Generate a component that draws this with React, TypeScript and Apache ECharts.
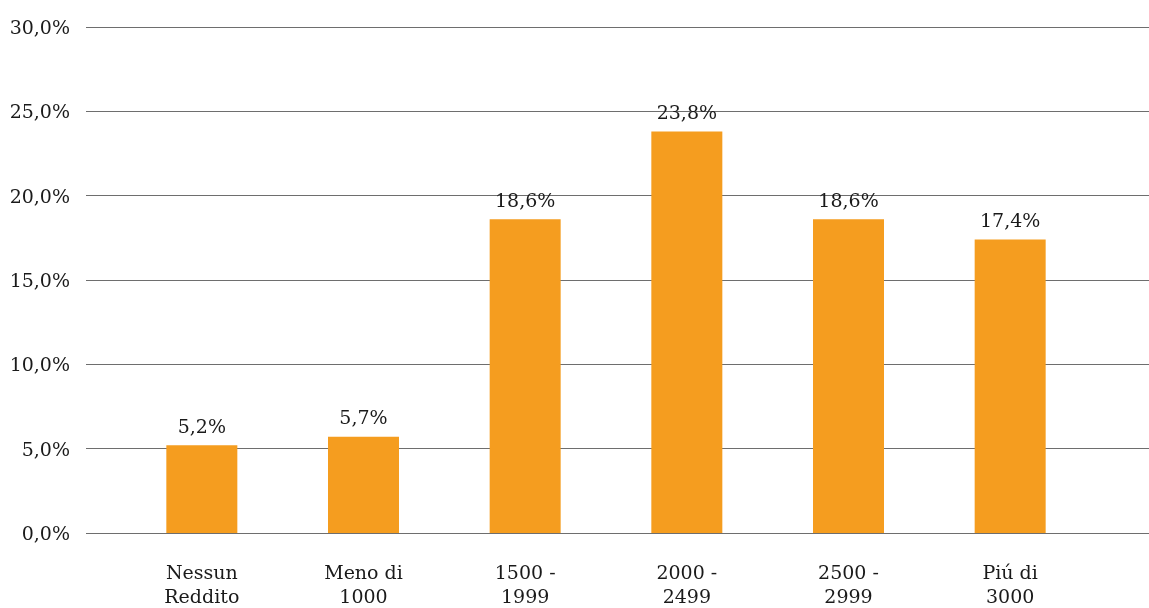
import React, { useEffect, useRef } from "react";
import * as echarts from "echarts";

const categories = ["Nessun\nReddito", "Meno di\n1000", "1500 -\n1999", "2000 -\n2499", "2500 -\n2999", "Piú di\n3000"];
const values = [5.2, 5.7, 18.6, 23.8, 18.6, 17.4];
const yTicks = { min: 0, max: 30, interval: 5 };

const FONT = "DejaVu Serif";
const fmt = (v: number) => v.toFixed(1).replace(".", ",") + "%";

export default function App() {
  const ref = useRef<HTMLDivElement>(null);
  useEffect(() => {
    if (!ref.current) return;
    const chart = echarts.init(ref.current, null, { renderer: "svg" });
    chart.setOption({
      animation: false,
      grid: [
        { left: 86, right: 0, top: 27, bottom: 75, outerBoundsMode: "none", containLabel: false },
        { left: 121, right: 58, top: 27, bottom: 75, outerBoundsMode: "none", containLabel: false },
      ],
      xAxis: [
        { gridIndex: 0, type: "value", show: false, min: 0, max: 1 },
        {
          gridIndex: 1,
          type: "category",
          data: categories,
          axisLine: { show: false },
          axisTick: { show: false },
          axisLabel: {
            margin: 27,
            fontFamily: FONT,
            fontSize: 19,
            lineHeight: 24,
            color: "#1a1a1a",
            interval: 0,
          },
        },
      ],
      yAxis: [
        {
          gridIndex: 0,
          type: "value",
          min: yTicks.min,
          max: yTicks.max,
          interval: yTicks.interval,
          axisLine: { show: false },
          axisTick: { show: false },
          splitLine: { show: true, lineStyle: { color: "#6e6e6e", width: 1 } },
          axisLabel: {
            margin: 16,
            fontFamily: FONT,
            fontSize: 19,
            color: "#1a1a1a",
            formatter: (v: number) => fmt(v),
          },
        },
        {
          gridIndex: 1,
          type: "value",
          min: yTicks.min,
          max: yTicks.max,
          interval: yTicks.interval,
          show: false,
          splitLine: { show: false },
        },
      ],
      series: [
        {
          type: "bar",
          xAxisIndex: 1,
          yAxisIndex: 1,
          data: values,
          barWidth: 71,
          itemStyle: { color: "#F59D1F" },
          label: {
            show: true,
            position: "top",
            distance: 10,
            fontFamily: FONT,
            fontSize: 19,
            color: "#1a1a1a",
            formatter: (p: any) => fmt(p.value),
          },
        },
      ],
    });
    return () => chart.dispose();
  }, []);
  return <div ref={ref} style={{ position: "fixed", left: 0, top: 0, width: 1149, height: 608 }} />;
}
